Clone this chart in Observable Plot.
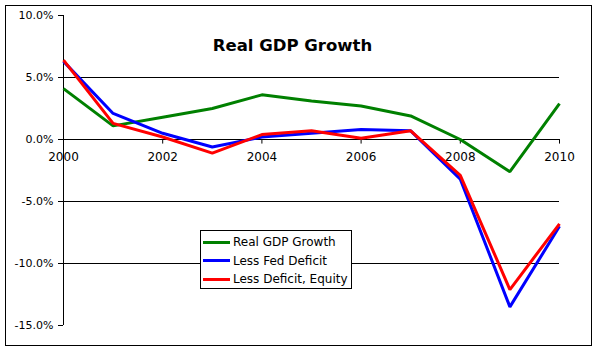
<!DOCTYPE html>
<html>
<head>
<meta charset="utf-8">
<script src="https://cdn.jsdelivr.net/npm/d3@7"></script>
<script src="https://cdn.jsdelivr.net/npm/@observablehq/plot@0.6"></script>
<style>
  html, body { margin: 0; padding: 0; background: #fff; }
  #wrap { position: relative; width: 597px; height: 350px; overflow: hidden; font-family: "DejaVu Sans", Verdana, sans-serif; }
  #border { position: absolute; left: 5px; top: 5px; width: 587px; height: 341px; box-sizing: border-box; border: 1px solid #000; pointer-events: none; }
  #legend { position: absolute; left: 200px; top: 230px; width: 152px; height: 59px; box-sizing: border-box; border: 1px solid #000; background: #fff; font-size: 12px; color: #000; }
  .row { position: absolute; left: 0; height: 18px; display: flex; align-items: center; }
  .sw { width: 27px; height: 3px; margin-left: 2px; margin-right: 3px; }
</style>
</head>
<body>
<div id="wrap">
  <div id="chart"></div>
  <div id="border"></div>
  <div id="legend"></div>
</div>
<script>
const years = [2000, 2001, 2002, 2003, 2004, 2005, 2006, 2007, 2008, 2009, 2010];
const realGdpGrowth = [4.1, 1.1, 1.8, 2.5, 3.6, 3.1, 2.7, 1.9, 0.0, -2.6, 2.9];
const lessFedDeficit = [6.3, 2.1, 0.5, -0.6, 0.2, 0.5, 0.8, 0.7, -3.2, -13.5, -7.0];
const lessDeficitEquity = [6.4, 1.3, 0.2, -1.1, 0.4, 0.7, 0.1, 0.7, -2.9, -12.1, -6.8];
const seriesNames = ["Real GDP Growth", "Less Fed Deficit", "Less Deficit, Equity"];
const seriesColors = ["#008000", "#0000ff", "#ff0000"];
const xTicks = [2000, 2002, 2004, 2006, 2008, 2010];
const yTicks = [-15, -10, -5, 0, 5, 10];
const gridValues = [5, -5, -10];
const title = "Real GDP Growth";

const seriesValues = [realGdpGrowth, lessFedDeficit, lessDeficitEquity];
const rows = [];
seriesNames.forEach((name, i) => {
  years.forEach((yr, j) => rows.push({series: name, year: yr, value: seriesValues[i][j]}));
});

const chart = Plot.plot({
  width: 597,
  height: 350,
  marginLeft: 63,
  marginRight: 38,
  marginTop: 15,
  marginBottom: 25,
  style: {fontFamily: "'DejaVu Sans', Verdana, sans-serif", background: "transparent", color: "#000"},
  x: {domain: [2000, 2010], axis: null},
  y: {domain: [-15, 10], axis: null},
  color: {domain: seriesNames, range: seriesColors},
  marks: [
    Plot.ruleY(gridValues, {stroke: "#000", strokeWidth: 1}),
    Plot.ruleX([2000], {y1: -15, y2: 10, stroke: "#000"}),
    Plot.axisY({ticks: yTicks, tickSize: 5, tickPadding: 5, tickFormat: d => d.toFixed(1) + "%", fontSize: 11, stroke: "#000", fill: "#000", label: null}),
    Plot.ruleY([0], {stroke: "#000"}),
    Plot.ruleX(xTicks, {x: d => d, y1: 0, y2: -0.37, stroke: "#000"}),
    Plot.text(xTicks, {x: d => d, y: 0, text: d => String(d), dy: 18, fontSize: 12, fill: "#000"}),
    Plot.line(rows, {x: "year", y: "value", z: "series", stroke: "series", strokeWidth: 3, strokeLinejoin: "miter", strokeLinecap: "butt"}),
    Plot.text([title], {frameAnchor: "top", dx: -19, dy: 24, text: d => d, fontSize: 16.5, fontWeight: "bold", fill: "#000"})
  ]
});
document.getElementById("chart").appendChild(chart);

const legend = document.getElementById("legend");
seriesNames.forEach((name, i) => {
  const r = document.createElement("div");
  r.className = "row";
  r.style.top = (2 + i * 18.5) + "px";
  const sw = document.createElement("div");
  sw.className = "sw";
  sw.style.background = seriesColors[i];
  const t = document.createElement("span");
  t.textContent = name;
  r.appendChild(sw);
  r.appendChild(t);
  legend.appendChild(r);
});
</script>
</body>
</html>
